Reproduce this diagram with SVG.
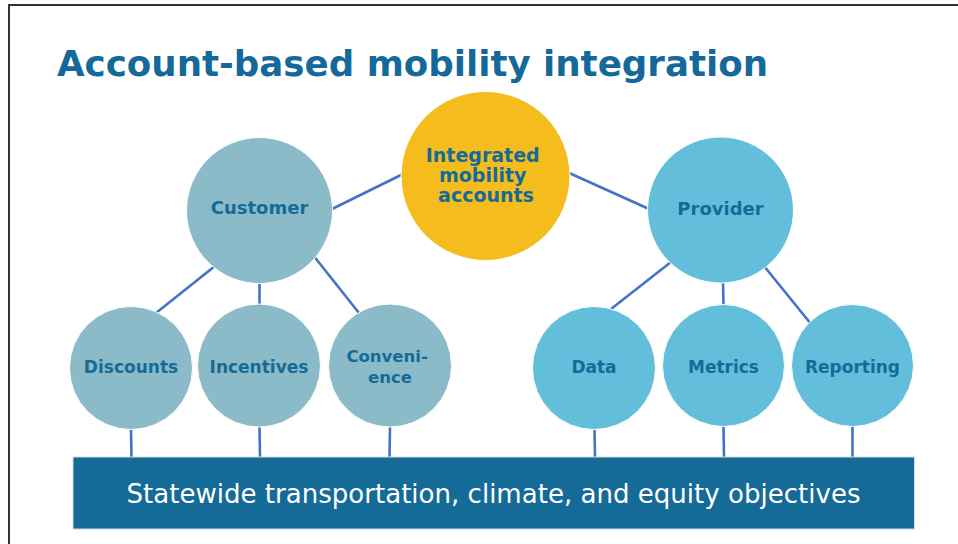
<svg xmlns="http://www.w3.org/2000/svg" width="958" height="544" viewBox="0 0 958 544">
  <style>
    .frame { fill: none; stroke: #333333; stroke-width: 2; }
    .title { font-family: "DejaVu Sans", Verdana, sans-serif; font-weight: bold; font-size: 36px; fill: #14699a; }
    .link { stroke: #4472c4; stroke-width: 2.6; fill: none; stroke-linecap: butt; }
    .hub { fill: #f4bc1c; stroke: #ffffff; stroke-width: 1; }
    .cust { fill: #8bbac8; stroke: #ffffff; stroke-width: 1; }
    .prov { fill: #63bedb; stroke: #ffffff; stroke-width: 1; }
    .lbl { font-family: "DejaVu Sans", Verdana, sans-serif; font-weight: bold; fill: #156b97; text-anchor: middle; }
    .big { font-size: 18px; }
    .small { font-size: 17px; }
    .base { fill: #156b97; stroke: #d0d8e0; stroke-width: 1; }
    .baseText { font-family: "DejaVu Sans", Verdana, sans-serif; font-size: 26px; fill: #ffffff; text-anchor: middle; }
  </style>

  <rect width="958" height="544" fill="#ffffff"/>
  <path class="frame" d="M9,544 V5 H958"/>

  <text class="title" x="57" y="76" textLength="711" lengthAdjust="spacingAndGlyphs">Account-based mobility integration</text>

  <!-- connectors -->
  <g id="connectors">
    <line class="link" x1="332" y1="209" x2="403" y2="174"/>
    <line class="link" x1="567" y1="172" x2="649" y2="209"/>
    <line class="link" x1="215" y1="266" x2="156" y2="313"/>
    <line class="link" x1="259.5" y1="282" x2="259.5" y2="305"/>
    <line class="link" x1="313" y1="255" x2="359" y2="313"/>
    <line class="link" x1="671" y1="262" x2="611" y2="309"/>
    <line class="link" x1="723" y1="282" x2="723.5" y2="305"/>
    <line class="link" x1="764" y1="266" x2="811" y2="324"/>
    <line class="link" x1="131" y1="428" x2="131.5" y2="458"/>
    <line class="link" x1="259.5" y1="426" x2="260" y2="458"/>
    <line class="link" x1="390" y1="426" x2="389.5" y2="458"/>
    <line class="link" x1="594.5" y1="428" x2="595" y2="458"/>
    <line class="link" x1="723.5" y1="426" x2="724" y2="458"/>
    <line class="link" x1="852.5" y1="426" x2="852.5" y2="458"/>
  </g>

  <g id="integrated">
    <circle class="hub" cx="485.5" cy="176" r="84.5"/>
    <text class="lbl" font-size="19">
      <tspan x="486" y="162">Integrated</tspan>
      <tspan x="486" y="182">mobility</tspan>
      <tspan x="486" y="202">accounts</tspan>
    </text>
  </g>

  <g id="customer">
    <circle class="cust" cx="259.5" cy="210.5" r="73"/>
    <text class="lbl big" x="259.5" y="214">Customer</text>
  </g>

  <g id="provider">
    <circle class="prov" cx="720.5" cy="210" r="73"/>
    <text class="lbl big" x="720.5" y="215">Provider</text>
  </g>

  <g id="discounts">
    <circle class="cust" cx="131" cy="368" r="61.5"/>
    <text class="lbl small" x="131" y="373">Discounts</text>
  </g>

  <g id="incentives">
    <circle class="cust" cx="259" cy="365.5" r="61.5"/>
    <text class="lbl small" x="259" y="373">Incentives</text>
  </g>

  <g id="convenience">
    <circle class="cust" cx="390" cy="365.5" r="61.5"/>
    <text class="lbl" font-size="16.5">
      <tspan x="390" y="362">Conveni-</tspan>
      <tspan x="390" y="383">ence</tspan>
    </text>
  </g>

  <g id="data">
    <circle class="prov" cx="594" cy="368" r="61.5"/>
    <text class="lbl small" x="594" y="373">Data</text>
  </g>

  <g id="metrics">
    <circle class="prov" cx="723.5" cy="365.5" r="61"/>
    <text class="lbl small" x="723.5" y="373">Metrics</text>
  </g>

  <g id="reporting">
    <circle class="prov" cx="852.5" cy="365.5" r="61"/>
    <text class="lbl small" x="852.5" y="373">Reporting</text>
  </g>

  <g id="objectives">
    <rect class="base" x="73" y="457" width="841.5" height="72"/>
    <text class="baseText" x="493.5" y="503" textLength="734" lengthAdjust="spacingAndGlyphs">Statewide transportation, climate, and equity objectives</text>
  </g>
</svg>
